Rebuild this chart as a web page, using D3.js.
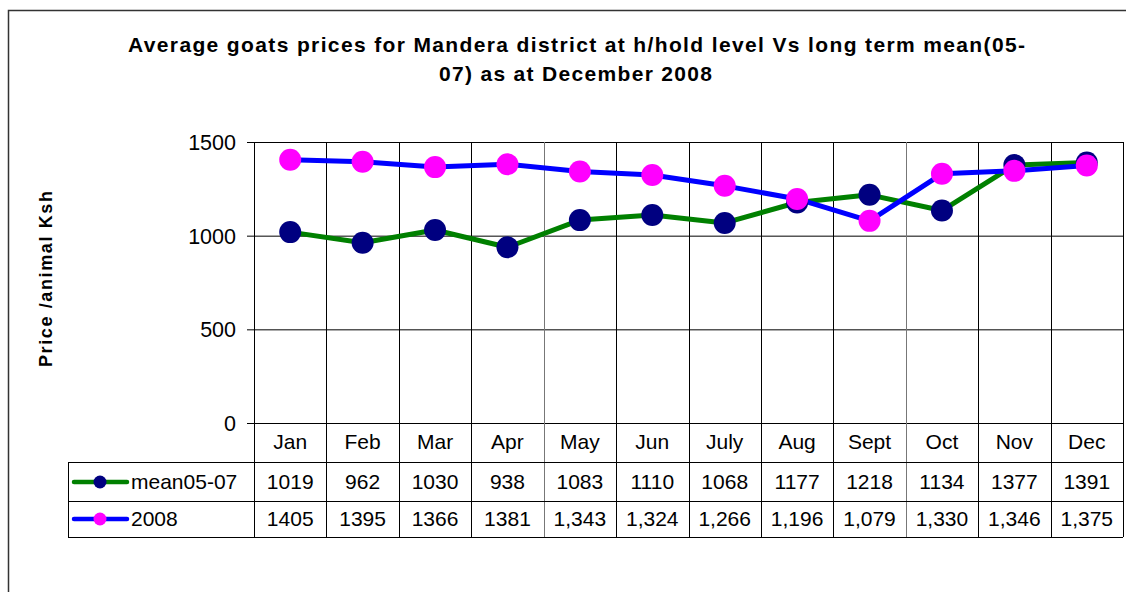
<!DOCTYPE html>
<html>
<head>
<meta charset="utf-8">
<script src="https://cdn.jsdelivr.net/npm/d3@7"></script>
<style>
  html, body { margin: 0; padding: 0; background: #fff; }
  svg { display: block; font-family: 'Liberation Sans', Arial, sans-serif; }
</style>
</head>
<body>
<svg id="chart" width="1126" height="592"></svg>
<script>
const months = ['Jan', 'Feb', 'Mar', 'Apr', 'May', 'Jun', 'July', 'Aug', 'Sept', 'Oct', 'Nov', 'Dec'];
const meanValues = [1019, 962, 1030, 938, 1083, 1110, 1068, 1177, 1218, 1134, 1377, 1391];
const values2008 = [1405, 1395, 1366, 1381, 1343, 1324, 1266, 1196, 1079, 1330, 1346, 1375];
// labels as printed in the data table
const meanLabels = ['1019', '962', '1030', '938', '1083', '1110', '1068', '1177', '1218', '1134', '1377', '1391'];
const labels2008 = ['1405', '1395', '1366', '1381', '1,343', '1,324', '1,266', '1,196', '1,079', '1,330', '1,346', '1,375'];
const yTicks = [0, 500, 1000, 1500];

const series = [
  { name: 'mean05-07', values: meanValues, labels: meanLabels, line: '#008000', marker: '#000080' },
  { name: '2008', values: values2008, labels: labels2008, line: '#0000ff', marker: '#ff00ff' }
];

const svg = d3.select('#chart');

// outer frame (runs off the right/bottom edge)
svg.append('rect')
  .attr('x', 8.5).attr('y', 10.5)
  .attr('width', 1200).attr('height', 700)
  .attr('fill', 'none').attr('stroke', '#333').attr('stroke-width', 1.5);

// title - Excel spreads the letters out, so stretch to the same width
svg.append('text')
  .attr('x', 128).attr('y', 52)
  .attr('font-size', 21).attr('font-weight', 'bold')
  .attr('textLength', 897).attr('lengthAdjust', 'spacing')
  .text('Average goats prices for Mandera district at h/hold level Vs long term mean(05-');
svg.append('text')
  .attr('x', 439).attr('y', 81)
  .attr('font-size', 21).attr('font-weight', 'bold')
  .attr('textLength', 273).attr('lengthAdjust', 'spacing')
  .text('07) as at December 2008');

const plotLeft = 254, plotRight = 1123, plotTop = 142, plotBottom = 423;

const x = d3.scaleBand().domain(months).range([plotLeft, plotRight]);
const y = d3.scaleLinear().domain([0, 1500]).range([plotBottom, plotTop]);

// horizontal grid
svg.append('g')
  .selectAll('line')
  .data(yTicks)
  .join('line')
  .attr('x1', plotLeft - 7).attr('x2', plotRight)
  .attr('y1', d => y(d) + 0.5).attr('y2', d => y(d) + 0.5)
  .attr('stroke', '#000').attr('stroke-width', 1);

// y tick labels
svg.append('g')
  .selectAll('text')
  .data(yTicks)
  .join('text')
  .attr('x', 236).attr('y', d => y(d) + 8)
  .attr('text-anchor', 'end')
  .attr('font-size', 21.5)
  .text(d => d);

// y axis title
svg.append('text')
  .attr('transform', 'translate(52,367) rotate(-90)')
  .attr('font-size', 18).attr('font-weight', 'bold')
  .attr('textLength', 176).attr('lengthAdjust', 'spacing')
  .text('Price /animal Ksh');

// table geometry
const tableLeft = 68;
const rowTops = [plotBottom, 462, 501, 537];

// vertical lines: column boundaries through plot and table
const bounds = months.map(m => x(m)).concat([plotRight]);
svg.append('g')
  .selectAll('line')
  .data(bounds)
  .join('line')
  .attr('x1', d => Math.round(d) + 0.5).attr('x2', d => Math.round(d) + 0.5)
  .attr('y1', plotTop)
  .attr('y2', rowTops[3])
  .attr('stroke', (d, i) => (i === 4 || i === 9) ? '#777' : '#000')
  .attr('stroke-width', 1);

// table horizontal rules
svg.append('g')
  .selectAll('line')
  .data(rowTops.slice(1))
  .join('line')
  .attr('x1', tableLeft).attr('x2', plotRight)
  .attr('y1', d => d + 0.5).attr('y2', d => d + 0.5)
  .attr('stroke', '#000');
svg.append('line')
  .attr('x1', tableLeft + 0.5).attr('x2', tableLeft + 0.5)
  .attr('y1', rowTops[1]).attr('y2', rowTops[3])
  .attr('stroke', '#000');

// month labels
svg.append('g')
  .selectAll('text')
  .data(months)
  .join('text')
  .attr('x', d => x(d) + x.bandwidth() / 2)
  .attr('y', 449)
  .attr('text-anchor', 'middle')
  .attr('font-size', 21)
  .text(d => d);

// table values
series.forEach((s, si) => {
  const rowY = si === 0 ? 489 : 526;
  svg.append('g')
    .selectAll('text')
    .data(s.labels)
    .join('text')
    .attr('x', (d, i) => x(months[i]) + x.bandwidth() / 2)
    .attr('y', rowY)
    .attr('text-anchor', 'middle')
    .attr('font-size', 21)
    .text(d => d);

  // legend key
  const ky = rowY - 7;
  svg.append('line')
    .attr('x1', 74).attr('x2', 127)
    .attr('y1', ky).attr('y2', ky)
    .attr('stroke', s.line).attr('stroke-width', 4.5)
    .attr('stroke-linecap', 'round');
  svg.append('circle')
    .attr('cx', 100).attr('cy', ky).attr('r', 6.5)
    .attr('fill', s.marker);
  svg.append('text')
    .attr('x', 131).attr('y', rowY)
    .attr('font-size', 21)
    .text(s.name);
});

// series lines and markers
const line = d3.line()
  .x((d, i) => x(months[i]) + x.bandwidth() / 2)
  .y(d => y(d));

series.forEach(s => {
  svg.append('path')
    .datum(s.values)
    .attr('d', line)
    .attr('fill', 'none')
    .attr('stroke', s.line)
    .attr('stroke-width', 5)
    .attr('stroke-linejoin', 'round');
});

series.forEach(s => {
  svg.append('g')
    .selectAll('circle')
    .data(s.values)
    .join('circle')
    .attr('cx', (d, i) => x(months[i]) + x.bandwidth() / 2)
    .attr('cy', d => y(d))
    .attr('r', 11)
    .attr('fill', s.marker);
});
</script>
</body>
</html>
